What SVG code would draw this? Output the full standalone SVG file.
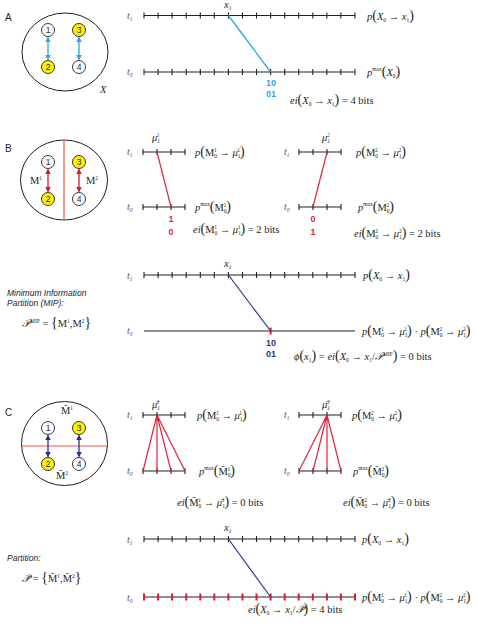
<svg xmlns="http://www.w3.org/2000/svg" xmlns:xlink="http://www.w3.org/1999/xlink" width="478" height="626" viewBox="0 0 478 626">
<style>
.bg{fill:#fff}
.lbl{font-family:"Liberation Sans",Arial,sans-serif;font-size:10px;fill:#231f20}
.cap{font-family:"Liberation Sans",Arial,sans-serif;font-size:8.5px;font-style:italic;fill:#231f20}
.m{font-family:"Liberation Serif","Times New Roman",serif;font-size:10.5px;fill:#231f20}
.t{font-family:"Liberation Serif","Times New Roman",serif;font-size:10px;font-style:italic;fill:#555}
.i{font-style:italic}
.s{font-size:5.5px}
.par{font-size:14px}
.ring{fill:none;stroke:#231f20;stroke-width:1}
.node{stroke:#231f20;stroke-width:0.9}
.w{fill:#fff}
.y{fill:#fff200}
.num{font-family:"Liberation Sans",Arial,sans-serif;font-size:8.5px;fill:#231f20;text-anchor:middle}
.tl{fill:none;stroke:#231f20;stroke-width:1.1}
.rt{fill:none;stroke:#e0192f;stroke-width:2}
.blue{stroke:#29a9e1;stroke-width:1.3;fill:none}
.red{stroke:#e0243d;stroke-width:1.2;fill:none}
.navy{stroke:#2e3192;stroke-width:1.2;fill:none}
.cut{stroke:#ee5a3c;stroke-width:1.2;fill:none}
.bits{font-family:"Liberation Sans",Arial,sans-serif;font-size:9px;font-weight:bold;text-anchor:middle}
</style>
<defs>
<marker id="ab" viewBox="0 0 6 6" refX="5" refY="3" markerWidth="4.5" markerHeight="4.5" orient="auto-start-reverse"><path d="M0,0L6,3L0,6z" fill="#29a9e1"/></marker>
<marker id="ar" viewBox="0 0 6 6" refX="5" refY="3" markerWidth="4.5" markerHeight="4.5" orient="auto-start-reverse"><path d="M0,0L6,3L0,6z" fill="#d2173b"/></marker>
<marker id="an" viewBox="0 0 6 6" refX="5" refY="3" markerWidth="4.5" markerHeight="4.5" orient="auto-start-reverse"><path d="M0,0L6,3L0,6z" fill="#2e3192"/></marker>
<path id="tl16" d="M144,0H355M144,-3v6M158.1,-3v6M172.1,-3v6M186.2,-3v6M200.3,-3v6M214.3,-3v6M228.4,-3v6M242.5,-3v6M256.5,-3v6M270.6,-3v6M284.7,-3v6M298.7,-3v6M312.8,-3v6M326.9,-3v6M340.9,-3v6M355,-3v6"/>
<path id="tk16" d="M144,-3.5v7M158.1,-3.5v7M172.1,-3.5v7M186.2,-3.5v7M200.3,-3.5v7M214.3,-3.5v7M228.4,-3.5v7M242.5,-3.5v7M256.5,-3.5v7M270.6,-3.5v7M284.7,-3.5v7M298.7,-3.5v7M312.8,-3.5v7M326.9,-3.5v7M340.9,-3.5v7M355,-3.5v7"/>
<path id="tl4" d="M0,0H42M0,-3v6M14,-3v6M28,-3v6M42,-3v6"/>
</defs>
<rect class="bg" width="478" height="626"/>

<!-- ================= PANEL A ================= -->
<g id="panelA">
<text class="lbl" x="5" y="21">A</text>
<ellipse class="ring" cx="65" cy="52" rx="43" ry="39"/>
<text class="m i" x="100" y="93">X</text>
<g id="A-n1"><circle class="node w" cx="48" cy="30" r="6.5"/><text class="num" x="48" y="33">1</text></g>
<g id="A-n3"><circle class="node y" cx="79" cy="30" r="6.5"/><text class="num" x="79" y="33">3</text></g>
<g id="A-n2"><circle class="node y" cx="48" cy="67" r="6.5"/><text class="num" x="48" y="70">2</text></g>
<g id="A-n4"><circle class="node w" cx="79" cy="67" r="6.5"/><text class="num" x="79" y="70">4</text></g>
<g id="A-arrows">
<path class="blue" d="M48,37.5V59.5" marker-start="url(#ab)" marker-end="url(#ab)"/>
<path class="blue" d="M79,37.5V59.5" marker-start="url(#ab)" marker-end="url(#ab)"/>
</g>
<text class="t" x="127" y="19">t<tspan class="s" dy="2">1</tspan></text>
<text class="t" x="127" y="75">t<tspan class="s" dy="2">0</tspan></text>
<use class="tl" xlink:href="#tl16" y="15.5"/>
<use class="tl" xlink:href="#tl16" y="72"/>
<text class="m i" x="224" y="8" font-size="9">x<tspan class="s" dy="2">1</tspan></text>
<path class="blue" d="M228.4,15.5L270.6,72"/>
<text class="bits" x="271" y="85.5" fill="#29a9e1">10</text>
<text class="bits" x="271" y="96.5" fill="#29a9e1">01</text>
<text class="m" x="367" y="20"><tspan class="i">p</tspan><tspan class="par">(</tspan><tspan class="i">X</tspan><tspan class="s" dy="2">0</tspan><tspan dy="-2"> → </tspan><tspan class="i">x</tspan><tspan class="s" dy="2">1</tspan><tspan class="par" dy="-2">)</tspan></text>
<text class="m" x="367" y="76"><tspan class="i">p</tspan><tspan class="s" dy="-5">max</tspan><tspan class="par" dy="5">(</tspan><tspan class="i">X</tspan><tspan class="s" dy="2">0</tspan><tspan class="par" dy="-2">)</tspan></text>
<text class="m" x="290" y="104"><tspan class="i">ei</tspan><tspan class="par">(</tspan><tspan class="i">X</tspan><tspan class="s" dy="2">0</tspan><tspan dy="-2"> → </tspan><tspan class="i">x</tspan><tspan class="s" dy="2">1</tspan><tspan class="par" dy="-2">)</tspan> = 4 bits</text>
</g>

<!-- ================= PANEL B ================= -->
<g id="panelB">
<text class="lbl" x="5" y="152">B</text>
<ellipse class="ring" cx="64" cy="180" rx="43.5" ry="40"/>
<path class="cut" d="M64,140V220"/>
<text class="m" x="30" y="184">M<tspan class="s" dy="-4">1</tspan></text>
<text class="m" x="86" y="184">M<tspan class="s" dy="-4">2</tspan></text>
<g id="B-n1"><circle class="node w" cx="48" cy="162" r="6.5"/><text class="num" x="48" y="165">1</text></g>
<g id="B-n3"><circle class="node y" cx="79" cy="162" r="6.5"/><text class="num" x="79" y="165">3</text></g>
<g id="B-n2"><circle class="node y" cx="48" cy="199" r="6.5"/><text class="num" x="48" y="202">2</text></g>
<g id="B-n4"><circle class="node w" cx="79" cy="199" r="6.5"/><text class="num" x="79" y="202">4</text></g>
<g id="B-arrows">
<path d="M48,169.5V191.5" stroke="#d2173b" stroke-width="1.3" marker-start="url(#ar)" marker-end="url(#ar)"/>
<path d="M79,169.5V191.5" stroke="#d2173b" stroke-width="1.3" marker-start="url(#ar)" marker-end="url(#ar)"/>
</g>
<!-- left short -->
<text class="t" x="127" y="155">t<tspan class="s" dy="2">1</tspan></text>
<text class="t" x="127" y="210">t<tspan class="s" dy="2">0</tspan></text>
<use class="tl" xlink:href="#tl4" x="143" y="152"/>
<use class="tl" xlink:href="#tl4" x="143" y="207"/>
<text class="m i" x="152" y="141" font-size="9">μ<tspan class="s" dy="2">1</tspan><tspan class="s" dx="-3" dy="-6">1</tspan></text>
<path class="red" d="M157,152L171,207"/>
<text class="bits" x="171" y="221.5" fill="#e0243d">1</text>
<text class="bits" x="171" y="234.5" fill="#e0243d">0</text>
<text class="m" x="195" y="156"><tspan class="i">p</tspan><tspan class="par">(</tspan>M<tspan class="s" dy="2">0</tspan><tspan class="s" dx="-3" dy="-6">1</tspan><tspan dy="4"> → </tspan><tspan class="i">μ</tspan><tspan class="s" dy="2">1</tspan><tspan class="s" dx="-3" dy="-6">1</tspan><tspan class="par" dy="4">)</tspan></text>
<text class="m" x="195" y="211"><tspan class="i">p</tspan><tspan class="s" dy="-5">max</tspan><tspan class="par" dy="5">(</tspan>M<tspan class="s" dy="2">0</tspan><tspan class="s" dx="-3" dy="-6">1</tspan><tspan class="par" dy="4">)</tspan></text>
<text class="m" x="193" y="233"><tspan class="i">ei</tspan><tspan class="par">(</tspan>M<tspan class="s" dy="2">0</tspan><tspan class="s" dx="-3" dy="-6">1</tspan><tspan dy="4"> → </tspan><tspan class="i">μ</tspan><tspan class="s" dy="2">1</tspan><tspan class="s" dx="-3" dy="-6">1</tspan><tspan class="par" dy="4">)</tspan> = 2 bits</text>
<!-- right short -->
<text class="t" x="284" y="155">t<tspan class="s" dy="2">1</tspan></text>
<text class="t" x="284" y="210">t<tspan class="s" dy="2">0</tspan></text>
<use class="tl" xlink:href="#tl4" x="299" y="152"/>
<use class="tl" xlink:href="#tl4" x="299" y="207"/>
<text class="m i" x="322" y="141" font-size="9">μ<tspan class="s" dy="2">1</tspan><tspan class="s" dx="-3" dy="-6">2</tspan></text>
<path class="red" d="M327,152L313,207"/>
<text class="bits" x="313" y="221.5" fill="#e0243d">0</text>
<text class="bits" x="313" y="234.5" fill="#e0243d">1</text>
<text class="m" x="356" y="156"><tspan class="i">p</tspan><tspan class="par">(</tspan>M<tspan class="s" dy="2">0</tspan><tspan class="s" dx="-3" dy="-6">2</tspan><tspan dy="4"> → </tspan><tspan class="i">μ</tspan><tspan class="s" dy="2">1</tspan><tspan class="s" dx="-3" dy="-6">2</tspan><tspan class="par" dy="4">)</tspan></text>
<text class="m" x="358" y="211"><tspan class="i">p</tspan><tspan class="s" dy="-5">max</tspan><tspan class="par" dy="5">(</tspan>M<tspan class="s" dy="2">0</tspan><tspan class="s" dx="-3" dy="-6">2</tspan><tspan class="par" dy="4">)</tspan></text>
<text class="m" x="354" y="237"><tspan class="i">ei</tspan><tspan class="par">(</tspan>M<tspan class="s" dy="2">0</tspan><tspan class="s" dx="-3" dy="-6">2</tspan><tspan dy="4"> → </tspan><tspan class="i">μ</tspan><tspan class="s" dy="2">1</tspan><tspan class="s" dx="-3" dy="-6">2</tspan><tspan class="par" dy="4">)</tspan> = 2 bits</text>
<!-- MIP -->
<text class="cap" x="7" y="296">Minimum Information</text>
<text class="cap" x="7" y="306">Partition (MIP):</text>
<text class="m" x="22" y="327"><tspan class="i">𝒫</tspan><tspan class="s" dy="-4">MIP</tspan><tspan dy="4"> = </tspan><tspan class="par">{</tspan>M<tspan class="s" dy="-4">1</tspan><tspan dy="4">,M</tspan><tspan class="s" dy="-4">2</tspan><tspan class="par" dy="4">}</tspan></text>
<text class="t" x="127" y="279">t<tspan class="s" dy="2">1</tspan></text>
<text class="t" x="127" y="334">t<tspan class="s" dy="2">0</tspan></text>
<use class="tl" xlink:href="#tl16" y="275"/>
<path class="tl" d="M144,331H355"/>
<path class="rt" d="M270.6,327.5v7"/>
<text class="m i" x="224" y="267" font-size="9">x<tspan class="s" dy="2">1</tspan></text>
<path class="navy" d="M228.4,275L270.6,331"/>
<text class="bits" x="271" y="345.5" fill="#2e3192">10</text>
<text class="bits" x="271" y="356.5" fill="#2e3192">01</text>
<text class="m" x="363" y="279"><tspan class="i">p</tspan><tspan class="par">(</tspan><tspan class="i">X</tspan><tspan class="s" dy="2">0</tspan><tspan dy="-2"> → </tspan><tspan class="i">x</tspan><tspan class="s" dy="2">1</tspan><tspan class="par" dy="-2">)</tspan></text>
<text class="m" x="362" y="335"><tspan class="i">p</tspan><tspan class="par">(</tspan>M<tspan class="s" dy="2">0</tspan><tspan class="s" dx="-3" dy="-6">1</tspan><tspan dy="4"> → </tspan><tspan class="i">μ</tspan><tspan class="s" dy="2">1</tspan><tspan class="s" dx="-3" dy="-6">1</tspan><tspan class="par" dy="4">)</tspan> · <tspan class="i">p</tspan><tspan class="par">(</tspan>M<tspan class="s" dy="2">0</tspan><tspan class="s" dx="-3" dy="-6">2</tspan><tspan dy="4"> → </tspan><tspan class="i">μ</tspan><tspan class="s" dy="2">1</tspan><tspan class="s" dx="-3" dy="-6">2</tspan><tspan class="par" dy="4">)</tspan></text>
<text class="m" x="294" y="360"><tspan class="i">ϕ</tspan><tspan class="par">(</tspan><tspan class="i">x</tspan><tspan class="s" dy="2">1</tspan><tspan class="par" dy="-2">)</tspan> = <tspan class="i">ei</tspan><tspan class="par">(</tspan><tspan class="i">X</tspan><tspan class="s" dy="2">0</tspan><tspan dy="-2"> → </tspan><tspan class="i">x</tspan><tspan class="s" dy="2">1</tspan><tspan dy="-2">/</tspan><tspan class="i">𝒫</tspan><tspan class="s" dy="-4">MIP</tspan><tspan class="par" dy="4">)</tspan> = 0 bits</text>
</g>

<!-- ================= PANEL C ================= -->
<g id="panelC">
<text class="lbl" x="5" y="416">C</text>
<ellipse class="ring" cx="64.5" cy="443.5" rx="43" ry="42"/>
<path class="cut" d="M21.5,446H107.5"/>
<text class="m" x="61" y="414">M̄<tspan class="s" dy="-4">1</tspan></text>
<text class="m" x="56" y="479">M̄<tspan class="s" dy="-4">2</tspan></text>
<g id="C-n1"><circle class="node w" cx="48" cy="428" r="6.5"/><text class="num" x="48" y="431">1</text></g>
<g id="C-n3"><circle class="node y" cx="79" cy="428" r="6.5"/><text class="num" x="79" y="431">3</text></g>
<g id="C-n2"><circle class="node y" cx="48" cy="464" r="6.5"/><text class="num" x="48" y="467">2</text></g>
<g id="C-n4"><circle class="node w" cx="79" cy="464" r="6.5"/><text class="num" x="79" y="467">4</text></g>
<g id="C-arrows">
<path d="M48,435.5V456.5" stroke="#2e3192" stroke-width="1.3" marker-start="url(#an)" marker-end="url(#an)"/>
<path d="M79,435.5V456.5" stroke="#2e3192" stroke-width="1.3" marker-start="url(#an)" marker-end="url(#an)"/>
</g>
<!-- left short -->
<text class="t" x="127" y="418">t<tspan class="s" dy="2">1</tspan></text>
<text class="t" x="127" y="474">t<tspan class="s" dy="2">0</tspan></text>
<use class="tl" xlink:href="#tl4" x="143" y="415"/>
<use class="tl" xlink:href="#tl4" x="143" y="471"/>
<text class="m i" x="152" y="408" font-size="9">μ̄<tspan class="s" dy="2">1</tspan><tspan class="s" dx="-3" dy="-6">1</tspan></text>
<path class="red" d="M157,415L143,471M157,415L157,471M157,415L171,471M157,415L185,471"/>
<text class="m" x="197" y="419"><tspan class="i">p</tspan><tspan class="par">(</tspan>M<tspan class="s" dy="2">0</tspan><tspan class="s" dx="-3" dy="-6">1</tspan><tspan dy="4"> → </tspan><tspan class="i">μ</tspan><tspan class="s" dy="2">1</tspan><tspan class="s" dx="-3" dy="-6">1</tspan><tspan class="par" dy="4">)</tspan></text>
<text class="m" x="199" y="475"><tspan class="i">p</tspan><tspan class="s" dy="-5">max</tspan><tspan class="par" dy="5">(</tspan>M̄<tspan class="s" dy="2">0</tspan><tspan class="s" dx="-3" dy="-6">1</tspan><tspan class="par" dy="4">)</tspan></text>
<text class="m" x="177" y="506"><tspan class="i">ei</tspan><tspan class="par">(</tspan>M̄<tspan class="s" dy="2">0</tspan><tspan class="s" dx="-3" dy="-6">1</tspan><tspan dy="4"> → </tspan><tspan class="i">μ̄</tspan><tspan class="s" dy="2">1</tspan><tspan class="s" dx="-3" dy="-6">1</tspan><tspan class="par" dy="4">)</tspan> = 0 bits</text>
<!-- right short -->
<text class="t" x="284" y="418">t<tspan class="s" dy="2">1</tspan></text>
<text class="t" x="284" y="474">t<tspan class="s" dy="2">0</tspan></text>
<use class="tl" xlink:href="#tl4" x="299" y="415"/>
<use class="tl" xlink:href="#tl4" x="299" y="471"/>
<text class="m i" x="322" y="408" font-size="9">μ̄<tspan class="s" dy="2">1</tspan><tspan class="s" dx="-3" dy="-6">2</tspan></text>
<path class="red" d="M327,415L299,471M327,415L313,471M327,415L327,471M327,415L341,471"/>
<text class="m" x="352" y="419"><tspan class="i">p</tspan><tspan class="par">(</tspan>M<tspan class="s" dy="2">0</tspan><tspan class="s" dx="-3" dy="-6">2</tspan><tspan dy="4"> → </tspan><tspan class="i">μ</tspan><tspan class="s" dy="2">1</tspan><tspan class="s" dx="-3" dy="-6">2</tspan><tspan class="par" dy="4">)</tspan></text>
<text class="m" x="353" y="475"><tspan class="i">p</tspan><tspan class="s" dy="-5">max</tspan><tspan class="par" dy="5">(</tspan>M̄<tspan class="s" dy="2">0</tspan><tspan class="s" dx="-3" dy="-6">2</tspan><tspan class="par" dy="4">)</tspan></text>
<text class="m" x="343" y="506"><tspan class="i">ei</tspan><tspan class="par">(</tspan>M̄<tspan class="s" dy="2">0</tspan><tspan class="s" dx="-3" dy="-6">2</tspan><tspan dy="4"> → </tspan><tspan class="i">μ̄</tspan><tspan class="s" dy="2">1</tspan><tspan class="s" dx="-3" dy="-6">2</tspan><tspan class="par" dy="4">)</tspan> = 0 bits</text>
<!-- partition -->
<text class="cap" x="7" y="561">Partition:</text>
<text class="m" x="22" y="582"><tspan class="i">𝒫̄</tspan> = <tspan class="par">{</tspan>M̄<tspan class="s" dy="-4">1</tspan><tspan dy="4">,M̄</tspan><tspan class="s" dy="-4">2</tspan><tspan class="par" dy="4">}</tspan></text>
<text class="t" x="127" y="543">t<tspan class="s" dy="2">1</tspan></text>
<text class="t" x="127" y="601">t<tspan class="s" dy="2">0</tspan></text>
<use class="tl" xlink:href="#tl16" y="539"/>
<path class="tl" d="M144,597H355"/>
<use class="rt" xlink:href="#tk16" y="597"/>
<text class="m i" x="224" y="531" font-size="9">x<tspan class="s" dy="2">1</tspan></text>
<path class="navy" d="M228.4,539L270.6,597"/>
<text class="m" x="362" y="543"><tspan class="i">p</tspan><tspan class="par">(</tspan><tspan class="i">X</tspan><tspan class="s" dy="2">0</tspan><tspan dy="-2"> → </tspan><tspan class="i">x</tspan><tspan class="s" dy="2">1</tspan><tspan class="par" dy="-2">)</tspan></text>
<text class="m" x="362" y="601"><tspan class="i">p</tspan><tspan class="par">(</tspan>M<tspan class="s" dy="2">0</tspan><tspan class="s" dx="-3" dy="-6">1</tspan><tspan dy="4"> → </tspan><tspan class="i">μ</tspan><tspan class="s" dy="2">1</tspan><tspan class="s" dx="-3" dy="-6">1</tspan><tspan class="par" dy="4">)</tspan> · <tspan class="i">p</tspan><tspan class="par">(</tspan>M<tspan class="s" dy="2">0</tspan><tspan class="s" dx="-3" dy="-6">2</tspan><tspan dy="4"> → </tspan><tspan class="i">μ</tspan><tspan class="s" dy="2">1</tspan><tspan class="s" dx="-3" dy="-6">2</tspan><tspan class="par" dy="4">)</tspan></text>
<text class="m" x="248" y="613"><tspan class="i">ei</tspan><tspan class="par">(</tspan><tspan class="i">X</tspan><tspan class="s" dy="2">0</tspan><tspan dy="-2"> → </tspan><tspan class="i">x</tspan><tspan class="s" dy="2">1</tspan><tspan dy="-2">/</tspan><tspan class="i">𝒫̄</tspan><tspan class="par">)</tspan> = 4 bits</text>
</g>
</svg>
